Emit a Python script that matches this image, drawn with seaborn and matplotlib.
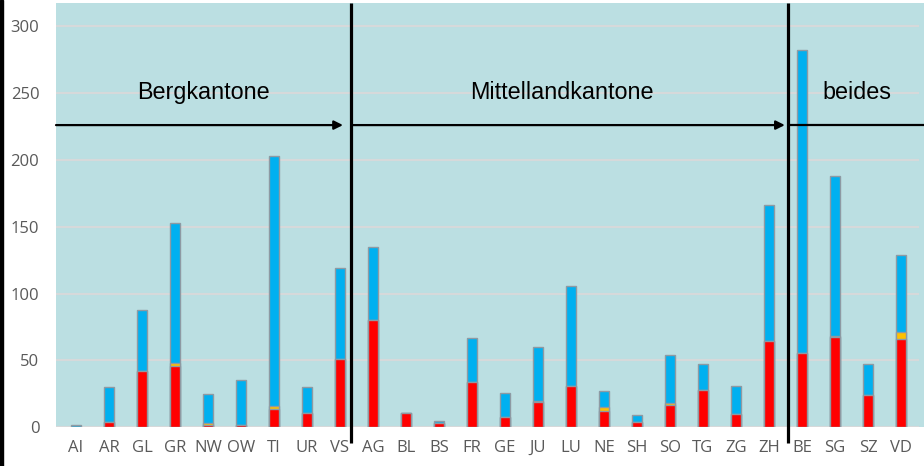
import matplotlib
matplotlib.use("Agg")
import matplotlib.pyplot as plt
import seaborn as sns
import pandas as pd
import numpy as np
from matplotlib.patches import Rectangle

# ---- data ----
cantons = ["AI", "AR", "GL", "GR", "NW", "OW", "TI", "UR", "VS",
           "AG", "BL", "BS", "FR", "GE", "JU", "LU", "NE", "SH", "SO", "TG", "ZG", "ZH",
           "BE", "SG", "SZ", "VD"]
red    = [0, 4, 42, 45.5, 1.5, 2, 14, 11, 51,
          80, 11, 3, 34, 8, 19, 31, 12, 4, 16.5, 28, 10, 64.5,
          55.5, 67.5, 24.5, 66]
yellow = [0, 0, 0, 2.5, 2, 0, 2, 0, 0,
          0, 0, 0, 0, 0, 1, 0, 3, 0, 2, 0, 0, 0,
          0, 1, 0, 5]
blue   = [2, 26, 46, 105, 21.5, 33, 187, 19, 68,
          55, 0, 1.5, 33, 18, 40, 75, 12, 5, 35.5, 19, 21, 101.5,
          226.5, 119.5, 22.5, 58]
group_labels = ["Bergkantone", "Mittellandkantone", "beides"]
yticks = [0, 50, 100, 150, 200, 250, 300]

df = pd.DataFrame({"canton": cantons, "red": red, "yellow": yellow, "blue": blue})
df["c_red"] = df["red"]
df["c_yellow"] = df["red"] + df["yellow"]
df["c_total"] = df["red"] + df["yellow"] + df["blue"]

# ---- figure ----
W, H = 924, 466
fig = plt.figure(figsize=(W / 100, H / 100), dpi=100)
ax = fig.add_axes([56 / W, (H - 427.3) / H, (924 - 56) / W, (427.3 - 3) / H])
bg = "#BBDFE2"
ax.set_facecolor(bg)

edge = "#8E9AA3"
for col, color in [("c_total", "#00B0F0"), ("c_yellow", "#FFC000"), ("c_red", "#FF0000")]:
    sns.barplot(data=df, x="canton", y=col, order=cantons, color=color, saturation=1,
                width=0.33, edgecolor=edge, linewidth=1.0, ax=ax, zorder=3)

ax.set_xlim(-0.606, 25.697)
ax.set_ylim(0, 317.3)
ax.set_xlabel("")
ax.set_ylabel("")
for s in ax.spines.values():
    s.set_visible(False)

# gridlines (end slightly before right edge)
for yv in yticks:
    ax.axhline(yv, xmin=0.001, xmax=(918 - 56) / (924 - 56), color="#D6D9DA", lw=1.5, zorder=1)

ax.set_yticks(yticks)
ax.set_yticklabels([str(v) for v in yticks])
ax.tick_params(axis="both", length=0, labelcolor="#595959", labelsize=12)
ax.tick_params(axis="y", pad=12)
ax.tick_params(axis="x", pad=9)
for lab in ax.get_xticklabels() + ax.get_yticklabels():
    lab.set_fontfamily("Open Sans")

# group separators
for xv in [8.33, 21.58]:
    ax.plot([xv, xv], [-11.7, 317.3], color="black", lw=2.3, clip_on=False, zorder=5,
            solid_capstyle="butt")

# arrows
ya = 226
arrow_kw = dict(arrowstyle="-|>", color="black", lw=1.6, mutation_scale=13,
                shrinkA=0, shrinkB=0)
ax.annotate("", xy=(8.09, ya), xytext=(-0.606, ya), arrowprops=arrow_kw, zorder=5)
ax.annotate("", xy=(21.48, ya), xytext=(8.39, ya), arrowprops=arrow_kw, zorder=5)
ax.plot([21.6, 25.75], [ya, ya], color="black", lw=1.6, clip_on=False, zorder=5)

# group labels
yt = 245.3
for xv, t in zip([3.87, 14.73, 23.67], group_labels):
    ax.text(xv, yt, t, ha="center", va="baseline", fontsize=16.8,
            fontfamily="Liberation Sans", color="black", zorder=6)

# left black border strip
fig.patches.append(Rectangle((0, 0), 3 / W, 1, transform=fig.transFigure,
                             color="black", zorder=10))

fig.savefig("out.png", dpi=100)
